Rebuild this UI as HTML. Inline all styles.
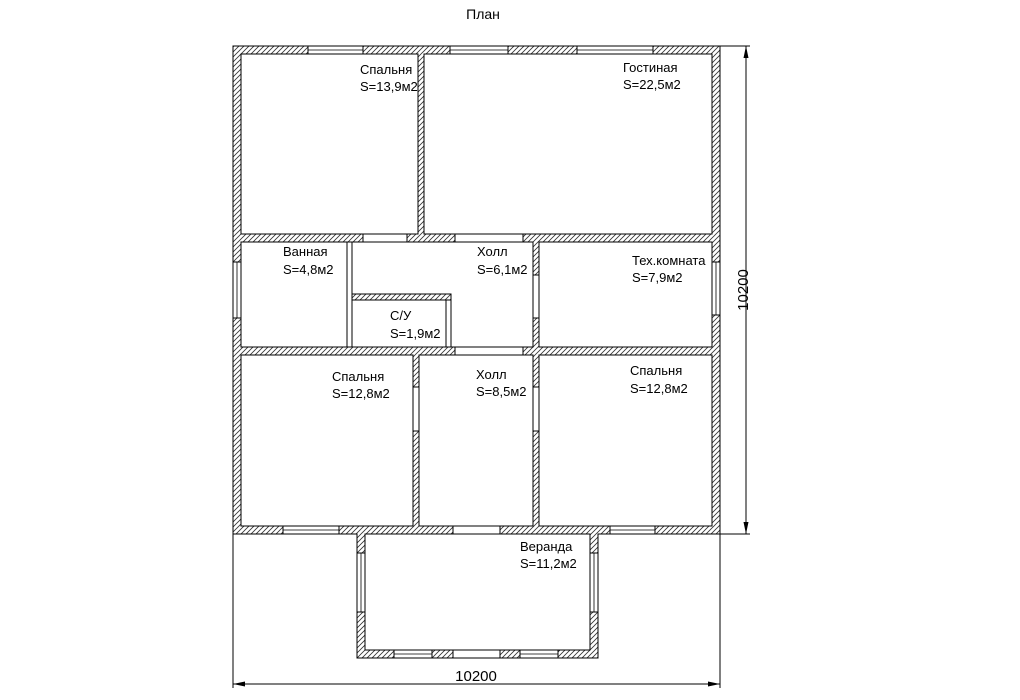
<!DOCTYPE html>
<html><head><meta charset="utf-8"><style>
html,body{margin:0;padding:0;background:#fff;}
svg{display:block;}
text{font-family:"Liberation Sans",Arial,sans-serif;font-size:13px;fill:#000;}
</style></head><body>
<svg width="1020" height="700" viewBox="0 0 1020 700" xmlns="http://www.w3.org/2000/svg">
<defs>
<pattern id="h" patternUnits="userSpaceOnUse" width="5" height="5">
<rect width="5" height="5" fill="#fff"/>
<path d="M-1,6 L6,-1 M-1,1 L1,-1 M4,6 L6,4" stroke="#333" stroke-width="0.8"/>
</pattern>
</defs>
<text x="483" y="19" text-anchor="middle" font-size="14" style="font-size:14px">План</text>

<!-- hatched wall masses -->
<rect x="233" y="46" width="487" height="488" fill="url(#h)"/>
<rect x="357" y="526" width="241" height="132" fill="url(#h)"/>

<g fill="#fff" stroke="#000" stroke-width="1">
<!-- outer outline -->
<path d="M233,46 H720 V534 H598 V658 H357 V534 H233 Z" fill="none"/>
<!-- rooms -->
<rect x="241" y="54" width="177" height="180"/>
<rect x="424" y="54" width="288" height="180"/>
<rect x="241" y="242" width="106" height="105"/>
<path d="M352,242 H533 V347 H451 V294 H352 Z"/>
<rect x="352" y="300" width="94" height="47"/>
<rect x="539" y="242" width="173" height="105"/>
<rect x="241" y="355" width="172" height="171"/>
<rect x="419" y="355" width="114" height="171"/>
<rect x="539" y="355" width="173" height="171"/>
<rect x="365" y="534" width="225" height="116"/>
<!-- partition thin between bath & hall / C/U -->
<rect x="347" y="242" width="5" height="105" fill="#fff"/>
<rect x="446" y="300" width="5" height="47" fill="#fff"/>

<!-- top wall windows -->
<rect x="308" y="46" width="55" height="8"/>
<rect x="450" y="46" width="58" height="8"/>
<rect x="577" y="46" width="76" height="8"/>
<!-- wall y234 openings -->
<rect x="363" y="234" width="44" height="8"/>
<rect x="455" y="234" width="68" height="8"/>
<!-- wall y347 openings -->
<rect x="455" y="347" width="68" height="8"/>
<!-- bottom wall openings -->
<rect x="283" y="526" width="56" height="8"/>
<rect x="453" y="526" width="47" height="8"/>
<rect x="610" y="526" width="45" height="8"/>
<!-- side windows -->
<rect x="233" y="262" width="8" height="56"/>
<rect x="712" y="262" width="8" height="53"/>
<!-- internal doors -->
<rect x="533" y="275" width="6" height="43"/>
<rect x="413" y="387" width="6" height="44"/>
<rect x="533" y="387" width="6" height="44"/>
<!-- veranda windows -->
<rect x="357" y="553" width="8" height="59"/>
<rect x="590" y="553" width="8" height="59"/>
<rect x="394" y="650" width="38" height="8"/>
<rect x="453" y="650" width="47" height="8"/>
<rect x="520" y="650" width="38" height="8"/>
</g>
<!-- window middle lines -->
<g stroke="#000" stroke-width="0.8">
<line x1="308" y1="50" x2="363" y2="50"/>
<line x1="450" y1="50" x2="508" y2="50"/>
<line x1="577" y1="50" x2="653" y2="50"/>
<line x1="283" y1="530" x2="339" y2="530"/>
<line x1="610" y1="530" x2="655" y2="530"/>
<line x1="237" y1="262" x2="237" y2="318"/>
<line x1="716" y1="262" x2="716" y2="315"/>
<line x1="361" y1="553" x2="361" y2="612"/>
<line x1="594" y1="553" x2="594" y2="612"/>
<line x1="394" y1="654" x2="432" y2="654"/>
<line x1="520" y1="654" x2="558" y2="654"/>
</g>

<!-- dimensions -->
<g stroke="#000" stroke-width="1" fill="none">
<line x1="720" y1="46" x2="750" y2="46"/>
<line x1="720" y1="534" x2="750" y2="534"/>
<line x1="233" y1="534" x2="357" y2="534"/>
<line x1="746" y1="46" x2="746" y2="534"/>
<line x1="233" y1="534" x2="233" y2="688"/>
<line x1="720" y1="534" x2="720" y2="688"/>
<line x1="233" y1="684" x2="720" y2="684"/>
</g>
<g fill="#000">
<path d="M746,46 L743.5,58 L748.5,58 Z"/>
<path d="M746,534 L743.5,522 L748.5,522 Z"/>
<path d="M233,684 L245,681.5 L245,686.5 Z"/>
<path d="M720,684 L708,681.5 L708,686.5 Z"/>
</g>
<text x="476" y="681" text-anchor="middle" style="font-size:15px">10200</text>
<text transform="translate(748,290) rotate(-90)" text-anchor="middle" style="font-size:15px">10200</text>

<!-- labels -->
<text x="360" y="74">Спальня</text><text x="360" y="91">S=13,9м2</text>
<text x="623" y="72">Гостиная</text><text x="623" y="89">S=22,5м2</text>
<text x="283" y="256">Ванная</text><text x="283" y="274">S=4,8м2</text>
<text x="477" y="256">Холл</text><text x="477" y="274">S=6,1м2</text>
<text x="632" y="265">Тех.комната</text><text x="632" y="282">S=7,9м2</text>
<text x="390" y="320">С/У</text><text x="390" y="338">S=1,9м2</text>
<text x="332" y="381">Спальня</text><text x="332" y="398">S=12,8м2</text>
<text x="476" y="379">Холл</text><text x="476" y="396">S=8,5м2</text>
<text x="630" y="375">Спальня</text><text x="630" y="393">S=12,8м2</text>
<text x="520" y="551">Веранда</text><text x="520" y="568">S=11,2м2</text>
</svg>
</body></html>
